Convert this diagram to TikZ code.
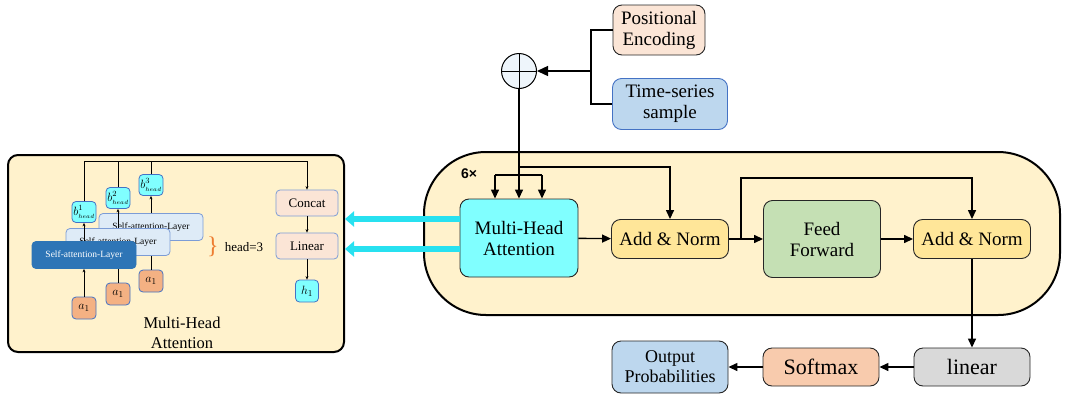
\documentclass[tikz,border=0pt]{standalone}
\usepackage{fontspec}
\setmainfont{Liberation Serif}
\setsansfont{Liberation Sans}
\usepackage{tikz}
\usetikzlibrary{arrows.meta}
\definecolor{ColPanel}{RGB}{255,242,204}
\definecolor{ColCyan}{RGB}{128,255,255}
\definecolor{ColNorm}{RGB}{255,230,153}
\definecolor{ColFeed}{RGB}{197,224,180}
\definecolor{ColPeach}{RGB}{251,229,214}
\definecolor{ColSky}{RGB}{189,215,238}
\definecolor{ColSoft}{RGB}{248,203,173}
\definecolor{ColGray}{RGB}{217,217,217}
\definecolor{ColEdgeBlue}{RGB}{68,114,196}
\definecolor{ColLayer}{RGB}{222,235,247}
\definecolor{ColLayerDark}{RGB}{46,117,182}
\definecolor{ColInput}{RGB}{244,177,131}
\definecolor{ColArrowCyan}{RGB}{40,225,240}
\definecolor{ColBrace}{RGB}{237,125,49}
\tikzstyle{PanelBox}=[draw=black,fill=ColPanel,line width=2pt,inner sep=0pt]
\tikzstyle{BoxMain}=[draw=black!85,rounded corners=9pt,inner sep=1pt,align=center,
line width=0.9pt,font=\rmfamily\fontsize{19}{21}\selectfont]
\tikzstyle{BoxSmall}=[draw=ColEdgeBlue,rounded corners=4pt,inner sep=0pt,align=center,
line width=0.8pt,minimum width=24pt,minimum height=22pt,font=\rmfamily\fontsize{13}{15}\selectfont]
\tikzstyle{LayerBox}=[draw=ColEdgeBlue!70,fill=ColLayer,rounded corners=4pt,inner sep=0pt,
minimum width=104pt,minimum height=27pt,line width=0.8pt,font=\rmfamily\fontsize{9.5}{11}\selectfont]
\tikzstyle{ArrowMain}=[line width=1.4pt,-{Triangle[length=9pt,width=8pt]}]
\tikzstyle{LineMain}=[line width=1.4pt]
\tikzstyle{ArrowSmall}=[line width=0.8pt,-{Stealth[length=3.5pt,width=3pt]}]
\tikzstyle{LineSmall}=[line width=0.8pt]
\tikzstyle{ArrowCyan}=[ColArrowCyan,line width=6pt,-{Triangle[length=9pt,width=15pt]}]

\begin{document}
\begin{tikzpicture}[x=1pt,y=-1pt]
        \useasboundingbox(0,0)rectangle(1065,394);
        \node[PanelBox,rounded corners=10pt,minimum width=336pt,minimum height=197pt](PanelL)at(176,253.5){};
        \node[PanelBox,rounded corners=62pt,minimum width=636pt,minimum height=163pt](PanelM)at(742,233.5){};
        \node[font=\sffamily\bfseries\fontsize{14}{16}\selectfont](SixX)at(469,174){6×};
        \node[BoxMain,fill=ColCyan,minimum width=118pt,minimum height=78pt](MHA)at(519,238){Multi-Head\\Attention};
        \node[BoxMain,fill=ColNorm,minimum width=117pt,minimum height=39pt](AN1)at(670,239){Add \& Norm};
        \node[BoxMain,fill=ColFeed,minimum width=117pt,minimum height=77pt](FF)at(822,239){Feed\\Forward};
        \node[BoxMain,fill=ColNorm,minimum width=117pt,minimum height=39pt](AN2)at(972,239){Add \& Norm};
        \node[BoxMain,fill=ColGray,minimum width=116pt,minimum height=38pt,font=\rmfamily\fontsize{22}{24}\selectfont](LinO)at(972,367){linear};
        \node[BoxMain,fill=ColSoft,minimum width=116pt,minimum height=38pt,font=\rmfamily\fontsize{22}{24}\selectfont](Soft)at(821,367){Softmax};
        \node[BoxMain,fill=ColSky,minimum width=116pt,minimum height=52pt,font=\rmfamily\fontsize{18}{20}\selectfont](Out)at(670,367){Output\\Probabilities};
        \node[BoxMain,fill=ColPeach,minimum width=92pt,minimum height=50pt](PE)at(659,30){Positional\\Encoding};
        \node[BoxMain,fill=ColSky,draw=ColEdgeBlue,minimum width=115pt,minimum height=51pt](TS)at(670,104){Time-series\\sample};
        \node[circle,draw=black,fill=ColLayer!50,line width=1pt,minimum size=35pt,inner sep=0pt,
            path picture={\draw[line width=1pt](path picture bounding box.north)--(path picture bounding box.south)
            (path picture bounding box.west)--(path picture bounding box.east);}](Plus)at(519,71){};
        \coordinate(Join)at(591,71);
        \draw[LineMain](PE.west)-|(Join)|-(TS.west);
        \draw[line width=1.4pt,-{Triangle[length=11pt,width=10pt]}](Join)--(Plus.east);
        \draw[ArrowMain](Plus.south)--(MHA.north);
        \coordinate(SplitL)at(495,175);
        \coordinate(SplitR)at(542,175);
        \draw[LineMain](SplitL)--(SplitR);
        \draw[ArrowMain](SplitL)--(SplitL|-MHA.north);
        \draw[ArrowMain](SplitR)--(SplitR|-MHA.north);
        \coordinate(Res1)at(519,167);
        \draw[ArrowMain](Res1)-|(AN1.north);
        \draw[ArrowMain](MHA)--(AN1);
        \draw[ArrowMain](AN1)--(FF);
        \draw[ArrowMain](FF)--(AN2);
        \coordinate(Res2)at(741,239);
        \coordinate(Res2t)at(741,178);
        \draw[ArrowMain](Res2)--(Res2t)-|(AN2.north);
        \draw[ArrowMain](AN2)--(LinO);
        \draw[ArrowMain](LinO)--(Soft);
        \draw[ArrowMain](Soft)--(Out);
        \draw[ArrowCyan](MHA.west|-0,219)--(PanelL.east|-0,219);
        \draw[ArrowCyan](MHA.west|-0,249)--(PanelL.east|-0,249);
        \node[LayerBox](L3)at(151,227){Self-attention-Layer};
        \node[LayerBox](L2)at(118,242){Self-attention-Layer};
        \node[LayerBox,fill=ColLayerDark,draw=ColLayerDark,text=white](L1)at(84,255){Self-attention-Layer};
        \node[BoxSmall,fill=ColCyan,minimum height=21pt,font=\fontsize{12}{14}\selectfont](B1)at(84,212){$b^{1}_{\scriptscriptstyle head}$};
        \node[BoxSmall,fill=ColCyan,minimum height=21pt,font=\fontsize{12}{14}\selectfont](B2)at(118,198){$b^{2}_{\scriptscriptstyle head}$};
        \node[BoxSmall,fill=ColCyan,minimum height=21pt,font=\fontsize{12}{14}\selectfont](B3)at(151,185){$b^{3}_{\scriptscriptstyle head}$};
        \node[BoxSmall,fill=ColInput](A1)at(84,308){$a_1$};
        \node[BoxSmall,fill=ColInput](A2)at(118,294){$a_1$};
        \node[BoxSmall,fill=ColInput](A3)at(151,281){$a_1$};
        \node[BoxSmall,fill=ColPeach,draw=ColEdgeBlue!70,minimum width=62pt,minimum height=26pt](Concat)at(307,203){Concat};
        \node[BoxSmall,fill=ColPeach,draw=ColEdgeBlue!70,minimum width=62pt,minimum height=26pt](LinL)at(307,246){Linear};
        \node[BoxSmall,fill=ColCyan,minimum width=23pt](H)at(307,291){$h_1$};
        \node[text=ColBrace,font=\rmfamily\fontsize{24}{26}\selectfont](Brace)at(213,247){\}};
        \node[font=\rmfamily\fontsize{13}{15}\selectfont](Head)at(244,247){head=3};
        \node[align=center,font=\rmfamily\fontsize{16.5}{20}\selectfont](Title)at(182,333){Multi-Head\\Attention};
        \draw[ArrowSmall](A1)--(L1);
        \draw[LineSmall](A2)--(A2|-L1.south);
        \draw[LineSmall](A3)--(A3|-L2.south);
        \draw[ArrowSmall](L1.north-|B1)--(B1);
        \draw[ArrowSmall](L2.north-|B2)--(B2);
        \draw[ArrowSmall](L3.north-|B3)--(B3);
        \coordinate(TopL)at(84,161);
        \coordinate(TopR)at(307,161);
        \draw[LineSmall](B1)--(TopL)--(TopR);
        \draw[LineSmall](B2)--(B2|-TopL);
        \draw[LineSmall](B3)--(B3|-TopL);
        \draw[ArrowSmall](TopR)--(Concat);
        \draw[ArrowSmall](Concat)--(LinL);
        \draw[ArrowSmall](LinL)--(H);
    \end{tikzpicture}
\end{document}
